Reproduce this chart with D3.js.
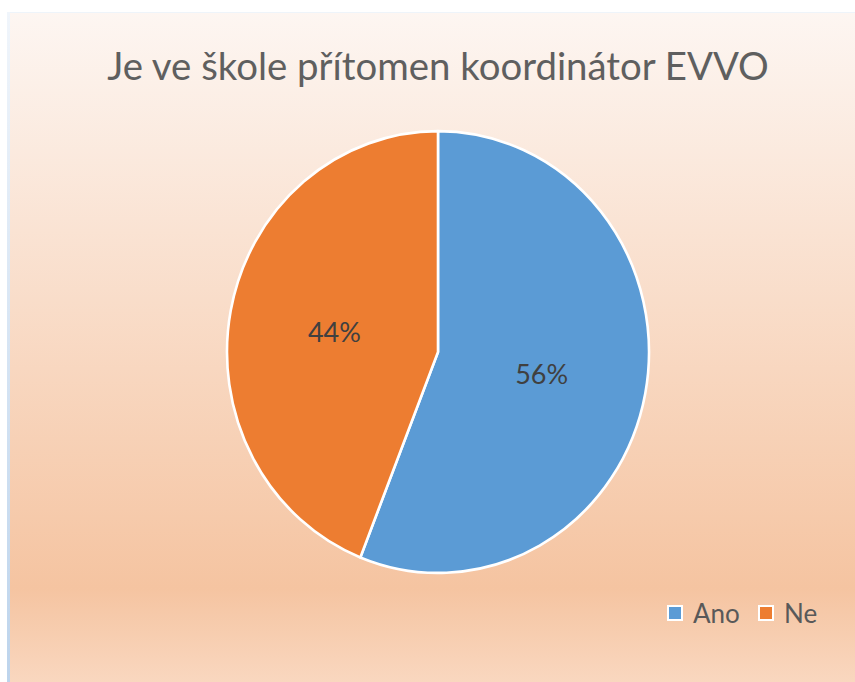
<!DOCTYPE html>
<html>
<head>
<meta charset="utf-8">
<script src="https://cdn.jsdelivr.net/npm/d3@7"></script>
<style>
  html, body { margin: 0; padding: 0; background: #fff; }
  svg { display: block; }
</style>
</head>
<body>
<div class="canvas"></div>
<script>
"use strict";

const title = "Je ve škole přítomen koordinátor EVVO";
const categories = ["Ano", "Ne"];
const values = [56, 44];
const colors = ["#5b9bd5", "#ed7d31"];

const W = 855, H = 682;
const font = "Lato, 'Open Sans', sans-serif";

const svg = d3.select(".canvas")
  .append("svg")
  .attr("width", W)
  .attr("height", H);

// background gradient like the office chart area
const defs = svg.append("defs");
const grad = defs.append("linearGradient")
  .attr("id", "bg")
  .attr("x1", 0).attr("y1", 0)
  .attr("x2", 0).attr("y2", 1);
grad.append("stop").attr("offset", "0%").attr("stop-color", "#fdf6f2");
grad.append("stop").attr("offset", "86%").attr("stop-color", "#f5c4a1");
grad.append("stop").attr("offset", "100%").attr("stop-color", "#f9d7bf");

const edge = defs.append("linearGradient")
  .attr("id", "edge")
  .attr("x1", 0).attr("y1", 0)
  .attr("x2", 0).attr("y2", 1);
edge.append("stop").attr("offset", "0%").attr("stop-color", "#f0f5fb");
edge.append("stop").attr("offset", "100%").attr("stop-color", "#bdd4ec");

svg.append("rect")
  .attr("x", 8).attr("y", 12)
  .attr("width", W - 8).attr("height", H - 12)
  .attr("fill", "url(#bg)");
svg.append("rect")
  .attr("x", 8).attr("y", 12)
  .attr("width", W - 8).attr("height", 1)
  .attr("fill", "#eef4fa");
svg.append("rect")
  .attr("x", 7).attr("y", 12)
  .attr("width", 3).attr("height", H - 12)
  .attr("fill", "url(#edge)");

// title, sized to span the same width as the original
const t = svg.append("text")
  .attr("x", 438)
  .attr("y", 80)
  .attr("text-anchor", "middle")
  .attr("fill", "#5f5f5f")
  .style("font-family", font)
  .style("font-size", "30px")
  .text(title);
const tw = t.node().getComputedTextLength();
t.style("font-size", (30 * 662 / tw) + "px");

// pie
const cx = 438, cy = 352, r = 211, sy = 1.047;
const pie = d3.pie().sort(null).value(d => d)(values);
const arc = d3.arc().innerRadius(0).outerRadius(r);

const g = svg.append("g")
  .attr("transform", `translate(${cx},${cy}) scale(1,${sy})`);

g.selectAll("path.slice")
  .data(pie)
  .enter()
  .append("path")
  .attr("class", "slice")
  .attr("d", arc)
  .attr("fill", (d, i) => colors[i])
  .attr("stroke", "#fff")
  .attr("stroke-width", 2.6)
  .attr("stroke-linejoin", "round");

const total = d3.sum(values);
svg.selectAll("text.lbl")
  .data(pie)
  .enter()
  .append("text")
  .attr("class", "lbl")
  .attr("x", d => cx + arc.centroid(d)[0])
  .attr("y", d => cy + arc.centroid(d)[1] * sy + 11)
  .attr("text-anchor", "middle")
  .attr("fill", "#404040")
  .style("font-family", font)
  .style("font-size", "27px")
  .text(d => Math.round(d.data / total * 100) + "%");

// legend
const legend = svg.append("g").attr("class", "legend");
const lx = [668, 759];
categories.forEach((c, i) => {
  legend.append("rect")
    .attr("x", lx[i])
    .attr("y", 606)
    .attr("width", 14)
    .attr("height", 14)
    .attr("fill", colors[i])
    .attr("stroke", "#fff")
    .attr("stroke-width", 2);
  legend.append("text")
    .attr("x", lx[i] + 25)
    .attr("y", 623)
    .attr("fill", "#595959")
    .style("font-family", font)
    .style("font-size", "26px")
    .text(c);
});
</script>
</body>
</html>
